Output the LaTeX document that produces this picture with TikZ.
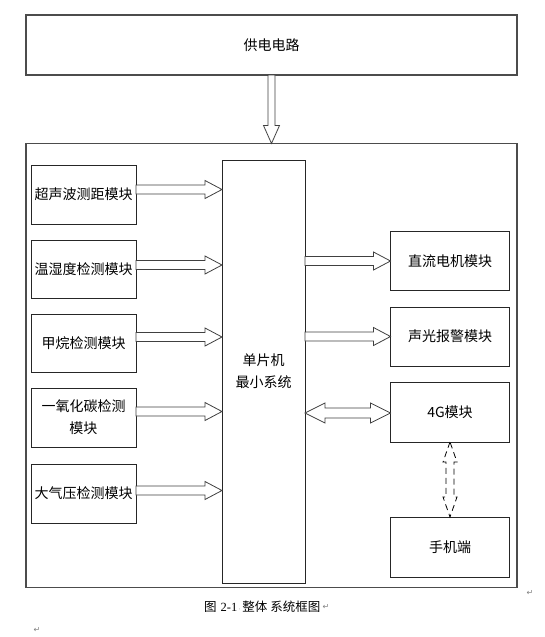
\documentclass[tikz,border=0pt]{standalone}
\usepackage{fontspec}
\newfontfamily\cjk{Noto Sans CJK SC}
\newfontfamily\symf{DejaVu Sans}
\newfontfamily\numf{Liberation Serif}
\usetikzlibrary{calc}
\tikzset{
  outerbox/.style={draw=black!70, line width=1.3pt, inner sep=0pt, outer sep=0pt},
  modbox/.style={draw=black!85, line width=1pt, inner sep=0pt, outer sep=0pt, align=center,
    font=\cjk\fontsize{14}{22}\selectfont},
  blockarr/.style={draw=black!75, line width=0.8pt, fill=white, line join=miter},
  dasharr/.style={draw=black, line width=0.8pt, fill=white, dash pattern=on 6pt off 4pt},
  pmark/.style={text=black!50, font=\symf\fontsize{8}{8}\selectfont, inner sep=0pt}
}
% right-pointing block arrow: start anchor, target node, vertical offset
\newcommand{\rarrow}[3]{%
  \draw[blockarr] let \p1=($(#1)+(0,#3)$), \p2=(#2.west) in
    (\x1,{\y1+4.5pt}) -- ({\x2-17pt},{\y1+4.5pt}) -- ({\x2-17pt},{\y1+9pt}) -- (\x2,\y1)
    -- ({\x2-17pt},{\y1-9pt}) -- ({\x2-17pt},{\y1-4.5pt}) -- (\x1,{\y1-4.5pt}) -- cycle;}
\begin{document}
\begin{tikzpicture}[x=1pt,y=-1pt]
\useasboundingbox (0,0) rectangle (545,637);
% top power box
\node[outerbox, minimum width=491pt, minimum height=60pt, font=\cjk\fontsize{14}{16}\selectfont] (power) at (271.5,45) {供电电路};
% outer system box
\node[outerbox, minimum width=491pt, minimum height=444pt] (sys) at (271.5,365.5) {};
% left modules
\node[modbox, minimum width=105pt, minimum height=59pt] (m1) at (83.5,194.5) {超声波测距模块};
\node[modbox, minimum width=105pt, minimum height=58pt] (m2) at (83.5,269) {温湿度检测模块};
\node[modbox, minimum width=105pt, minimum height=58pt] (m3) at (83.5,343) {甲烷检测模块};
\node[modbox, minimum width=105pt, minimum height=59pt] (m4) at (83.5,417.5) {一氧化碳检测\\模块};
\node[modbox, minimum width=105pt, minimum height=59pt] (m5) at (83.5,493.5) {大气压检测模块};
% MCU
\node[modbox, minimum width=83pt, minimum height=423pt] (mcu) at (263.5,371.5) {单片机\\最小系统};
% right modules
\node[modbox, minimum width=119pt, minimum height=59pt] (r1) at (450,261) {直流电机模块};
\node[modbox, minimum width=119pt, minimum height=59pt] (r2) at (450,336.5) {声光报警模块};
\node[modbox, minimum width=119pt, minimum height=60pt] (r3) at (450,412) {4G模块};
\node[modbox, minimum width=119pt, minimum height=60pt] (r4) at (450,547) {手机端};
% power arrow (down)
\draw[blockarr] let \p1=(power.south), \p2=(sys.north) in
  ({\x1-3.5pt},\y1) -- ({\x1-3.5pt},{\y2+18pt}) -- ({\x1-8pt},{\y2+18pt}) -- (\x1,\y2)
  -- ({\x1+8pt},{\y2+18pt}) -- ({\x1+3.5pt},{\y2+18pt}) -- ({\x1+3.5pt},\y1) -- cycle;
% sensor arrows into MCU
\rarrow{m1.east}{mcu}{-5}
\rarrow{m2.east}{mcu}{-4}
\rarrow{m3.east}{mcu}{-6}
\rarrow{m4.east}{mcu}{-6}
\rarrow{m5.east}{mcu}{-3}
% MCU to actuators
\rarrow{mcu.east |- r1.west}{r1}{0}
\rarrow{mcu.east |- r2.west}{r2}{0}
% MCU <-> 4G double arrow
\draw[blockarr] let \p1=($(mcu.east |- r3.west)+(0,1)$), \p2=(r3.west) in
  (\x1,\y1) -- ({\x1+20pt},{\y1+10pt}) -- ({\x1+20pt},{\y1+5pt}) -- ({\x2-20pt},{\y1+5pt})
  -- ({\x2-20pt},{\y1+10pt}) -- (\x2,\y1) -- ({\x2-20pt},{\y1-10pt}) -- ({\x2-20pt},{\y1-5pt})
  -- ({\x1+20pt},{\y1-5pt}) -- ({\x1+20pt},{\y1-10pt}) -- cycle;
% 4G <-> phone dashed double arrow
\draw[dasharr] let \p1=(r3.south), \p2=(r4.north) in
  (\x1,\y1) -- ({\x1-7pt},{\y1-20pt}) -- ({\x1-4pt},{\y1-20pt}) -- ({\x1-4pt},{\y2+20pt})
  -- ({\x1-7pt},{\y2+20pt}) -- (\x1,\y2) -- ({\x1+7pt},{\y2+20pt}) -- ({\x1+4pt},{\y2+20pt})
  -- ({\x1+4pt},{\y1-20pt}) -- ({\x1+7pt},{\y1-20pt}) -- cycle;
% caption and paragraph marks
\node[font=\cjk\fontsize{12.5}{14}\selectfont, inner sep=0pt, anchor=west] (cap) at (204,607)
  {图\hspace{4pt}{\numf 2-1}\hspace{1.5pt}{\color{black!50}\symf\fontsize{6}{6}\selectfont·}\hspace{1.5pt}整体\hspace{3pt}系统框图};
\node[pmark, anchor=west] (pm1) at ([xshift=2pt]cap.east) {↵};
\node[pmark] (pm2) at (530,593) {↵};
\node[pmark] (pm3) at (37,630) {↵};
\end{tikzpicture}
\end{document}
